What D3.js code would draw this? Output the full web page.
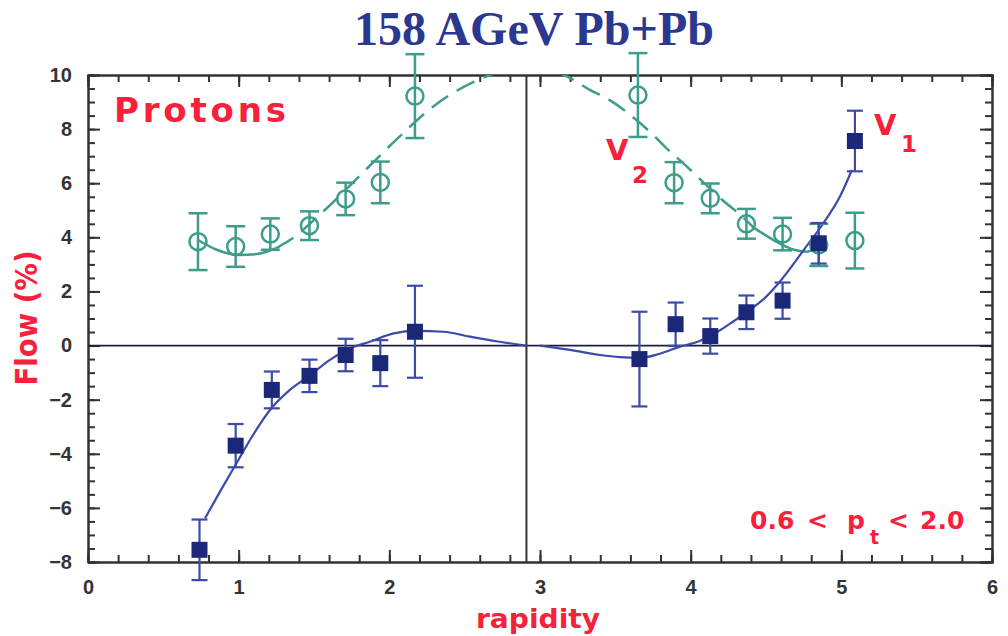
<!DOCTYPE html>
<html lang="en">
<head>
  <meta charset="UTF-8">
  <title>158 AGeV Pb+Pb proton flow</title>
  <script src="https://d3js.org/d3.v7.min.js"></script>
  <style>
    body { margin: 0; background: #fff; }
    .tick text { font-family: "Liberation Sans", Arial, sans-serif; font-weight: bold; font-size: 20px; fill: #333; }
    .red { fill: #f8203a; font-family: "DejaVu Sans", Arial, sans-serif; font-weight: bold; }
  </style>
</head>
<body>
<svg width="1008" height="636"></svg>
<script>
  // data
  let v2X = [0.73, 0.98, 1.21, 1.47, 1.71, 1.94, 2.17, 3.65, 3.89, 4.13, 4.37, 4.61, 4.85, 5.09];
  let v2Y = [3.84, 3.66, 4.12, 4.43, 5.42, 6.03, 9.22, 9.26, 6.02, 5.44, 4.5, 4.12, 3.72, 3.88];
  let v2Err = [1.05, 0.75, 0.58, 0.53, 0.6, 0.77, 1.55, 1.55, 0.76, 0.55, 0.55, 0.6, 0.78, 1.03];

  let v1X = [0.74, 0.98, 1.22, 1.47, 1.71, 1.94, 2.17, 3.66, 3.90, 4.13, 4.37, 4.61, 4.85, 5.09];
  let v1Y = [-7.55, -3.7, -1.64, -1.12, -0.35, -0.65, 0.51, -0.5, 0.79, 0.35, 1.23, 1.66, 3.78, 7.56];
  let v1Err = [1.12, 0.8, 0.68, 0.6, 0.6, 0.85, 1.7, 1.75, 0.8, 0.65, 0.62, 0.67, 0.75, 1.12];

  // fit curves (v2 solid / dashed pieces, v1 left / right)
  let v2LeftSolid = [[0.73, 3.9], [0.85, 3.55], [1.0, 3.35], [1.12, 3.38], [1.25, 3.6]];
  let v2LeftDash = [[1.25, 3.6], [1.34, 3.9], [1.57, 5.0], [1.82, 6.37], [2.05, 7.63], [2.29, 8.83], [2.56, 9.75], [2.69, 10.04], [2.91, 10.4]];
  let v2RightDash = [[2.91, 10.4], [3.2, 9.89], [3.33, 9.45], [3.46, 9.08], [3.6, 8.52], [3.73, 7.9], [3.84, 7.29], [3.95, 6.74], [4.08, 6.06], [4.21, 5.38], [4.33, 4.83], [4.42, 4.35]];
  let v2RightSolid = [[4.42, 4.35], [4.55, 3.9], [4.68, 3.55], [4.77, 3.47], [4.86, 3.72]];
  let v1Left = [[0.777, -6.38], [0.876, -5.4], [0.998, -4.23], [1.075, -3.49], [1.208, -2.38], [1.34, -1.64], [1.473, -1.1], [1.606, -0.53], [1.74, -0.1], [1.87, 0.14], [2.03, 0.45], [2.18, 0.54], [2.36, 0.51], [2.535, 0.33], [2.71, 0.16], [2.91, 0.0]];
  let v1Right = [[3.0, 0.0], [3.2, -0.16], [3.4, -0.35], [3.53, -0.43], [3.657, -0.46], [3.79, -0.31], [3.93, -0.04], [4.06, 0.17], [4.17, 0.48], [4.28, 0.88], [4.39, 1.31], [4.5, 1.8], [4.59, 2.35], [4.75, 3.53], [4.88, 4.52], [4.99, 5.5], [5.07, 6.49]];

  let xMajor = [0, 1, 2, 3, 4, 5, 6];
  let yMajor = [-8, -6, -4, -2, 0, 2, 4, 6, 8, 10];
  let yCm = 2.91;

  let svg = d3.select("svg");
  let pLeft = 88, pRight = 992, pTop = 75, pBottom = 562;

  let x = d3.scaleLinear().domain([0, 6]).range([pLeft, pRight]);
  let y = d3.scaleLinear().domain([-8, 10]).range([pBottom, pTop]);

  let xMinor = d3.range(0, 6.01, 0.2).map(function(d) { return +d.toFixed(1); });
  let yMinor = d3.range(-8, 10.01, 0.5);

  // title
  svg.append("text")
      .attr("x", 534).attr("y", 45)
      .attr("text-anchor", "middle")
      .attr("font-family", "'Liberation Serif', 'Times New Roman', serif")
      .attr("font-weight", "bold")
      .attr("font-size", "48px")
      .attr("fill", "#2b3890")
      .text("158 AGeV Pb+Pb");

  svg.append("defs").append("clipPath").attr("id", "plot")
    .append("rect").attr("x", pLeft).attr("y", pTop).attr("width", pRight - pLeft).attr("height", pBottom - pTop);

  // axes
  function styleAxis(g) {
    g.selectAll("path, line").attr("stroke", "#333").attr("stroke-width", 2);
  }
  svg.append("g").attr("transform", "translate(" + pLeft + ",0)")
      .call(d3.axisLeft(y).tickValues(yMinor).tickSize(-7).tickFormat("")).call(styleAxis);
  svg.append("g").attr("transform", "translate(" + pLeft + ",0)")
      .call(d3.axisLeft(y).tickValues(yMajor).tickSizeInner(-12).tickSizeOuter(0).tickPadding(16)).call(styleAxis);
  svg.append("g").attr("transform", "translate(" + pRight + ",0)")
      .call(d3.axisRight(y).tickValues(yMinor).tickSize(-7).tickFormat("")).call(styleAxis);
  svg.append("g").attr("transform", "translate(" + pRight + ",0)")
      .call(d3.axisRight(y).tickValues(yMajor).tickSize(-12).tickFormat("")).call(styleAxis);
  svg.append("g").attr("transform", "translate(0," + pBottom + ")")
      .call(d3.axisBottom(x).tickValues(xMinor).tickSize(-7).tickFormat("")).call(styleAxis);
  svg.append("g").attr("transform", "translate(0," + pBottom + ")")
      .call(d3.axisBottom(x).tickValues(xMajor).tickSizeInner(-12).tickSizeOuter(0).tickPadding(18).tickFormat(d3.format("d"))).call(styleAxis);
  svg.append("g").attr("transform", "translate(0," + pTop + ")")
      .call(d3.axisTop(x).tickValues(xMinor).tickSize(-7).tickFormat("")).call(styleAxis);
  svg.append("g").attr("transform", "translate(0," + pTop + ")")
      .call(d3.axisTop(x).tickValues(xMajor).tickSize(-12).tickFormat("")).call(styleAxis);

  // zero line and mid-rapidity line
  svg.append("line")
      .attr("x1", pLeft).attr("x2", pRight).attr("y1", y(0)).attr("y2", y(0))
      .attr("stroke", "#1d1d3a").attr("stroke-width", 1.8);
  svg.append("line")
      .attr("x1", x(yCm)).attr("x2", x(yCm)).attr("y1", pTop).attr("y2", pBottom)
      .attr("stroke", "#333").attr("stroke-width", 2);

  // curves
  let line = d3.line().x(function(d) { return x(d[0]); }).y(function(d) { return y(d[1]); })
      .curve(d3.curveMonotoneX);
  let curves = svg.append("g").attr("clip-path", "url(#plot)").attr("fill", "none");
  [[v2LeftSolid, null], [v2LeftDash, "20,10"], [v2RightDash, "20,10"], [v2RightSolid, null]].forEach(function(c) {
    curves.append("path").attr("d", line(c[0]))
        .attr("stroke", "#3d9c8b").attr("stroke-width", 2.5)
        .attr("stroke-dasharray", c[1]);
  });
  [v1Left, v1Right].forEach(function(c) {
    curves.append("path").attr("d", line(c))
        .attr("stroke", "#3b4ba8").attr("stroke-width", 2.2);
  });

  let v2 = v2X.map(function(d, i) { return {x: d, y: v2Y[i], e: v2Err[i]}; });
  let v1 = v1X.map(function(d, i) { return {x: d, y: v1Y[i], e: v1Err[i]}; });

  function errorBars(data, color, cap, width) {
    let g = svg.append("g").attr("stroke", color).attr("stroke-width", width);
    g.selectAll(".bar").data(data).enter().append("line")
        .attr("x1", function(d) { return x(d.x); }).attr("x2", function(d) { return x(d.x); })
        .attr("y1", function(d) { return y(d.y - d.e); }).attr("y2", function(d) { return y(d.y + d.e); });
    [-1, 1].forEach(function(s) {
      g.selectAll(".cap" + s).data(data).enter().append("line")
          .attr("x1", function(d) { return x(d.x) - cap / 2; }).attr("x2", function(d) { return x(d.x) + cap / 2; })
          .attr("y1", function(d) { return y(d.y + s * d.e); }).attr("y2", function(d) { return y(d.y + s * d.e); });
    });
  }

  // v2: open circles with error bars
  errorBars(v2, "#3d9c8b", 19, 2.5);
  svg.append("g").selectAll("circle").data(v2).enter().append("circle")
      .attr("cx", function(d) { return x(d.x); })
      .attr("cy", function(d) { return y(d.y); })
      .attr("r", 8.5)
      .attr("fill", "none").attr("stroke", "#3d9c8b").attr("stroke-width", 2.5);

  // v1: filled squares with error bars
  errorBars(v1, "#3b4ba8", 16, 2.2);
  svg.append("g").selectAll("rect").data(v1).enter().append("rect")
      .attr("x", function(d) { return x(d.x) - 8; })
      .attr("y", function(d) { return y(d.y) - 8; })
      .attr("width", 16).attr("height", 16)
      .attr("fill", "#1b2878");

  // labels
  svg.append("text").attr("class", "red")
      .attr("x", 114).attr("y", 122)
      .attr("font-size", "34px")
      .attr("textLength", 172).attr("lengthAdjust", "spacing")
      .text("Protons");

  svg.append("text").attr("class", "red")
      .attr("transform", "translate(37,318) rotate(-90)")
      .attr("text-anchor", "middle")
      .attr("font-size", "30px")
      .attr("textLength", 135).attr("lengthAdjust", "spacingAndGlyphs")
      .text("Flow (%)");

  svg.append("text").attr("class", "red")
      .attr("x", 538).attr("y", 628)
      .attr("text-anchor", "middle")
      .attr("font-size", "27px")
      .attr("textLength", 124).attr("lengthAdjust", "spacingAndGlyphs")
      .text("rapidity");

  svg.append("text").attr("class", "red").attr("x", 874).attr("y", 135).attr("font-size", "29px").text("V");
  svg.append("text").attr("class", "red").attr("x", 901).attr("y", 152).attr("font-size", "23px").text("1");
  svg.append("text").attr("class", "red").attr("x", 606).attr("y", 160).attr("font-size", "29px").text("V");
  svg.append("text").attr("class", "red").attr("x", 632).attr("y", 183).attr("font-size", "23px").text("2");

  let pt = svg.append("g").attr("font-size", "25px");
  pt.append("text").attr("class", "red").attr("x", 750).attr("y", 529).text("0.6");
  pt.append("text").attr("class", "red").attr("x", 807).attr("y", 529).text("<");
  pt.append("text").attr("class", "red").attr("x", 847).attr("y", 529).text("p");
  pt.append("text").attr("class", "red").attr("x", 870).attr("y", 544).attr("font-size", "19px").text("t");
  pt.append("text").attr("class", "red").attr("x", 888).attr("y", 529).text("<");
  pt.append("text").attr("class", "red").attr("x", 920).attr("y", 529).text("2.0");
</script>
</body>
</html>
